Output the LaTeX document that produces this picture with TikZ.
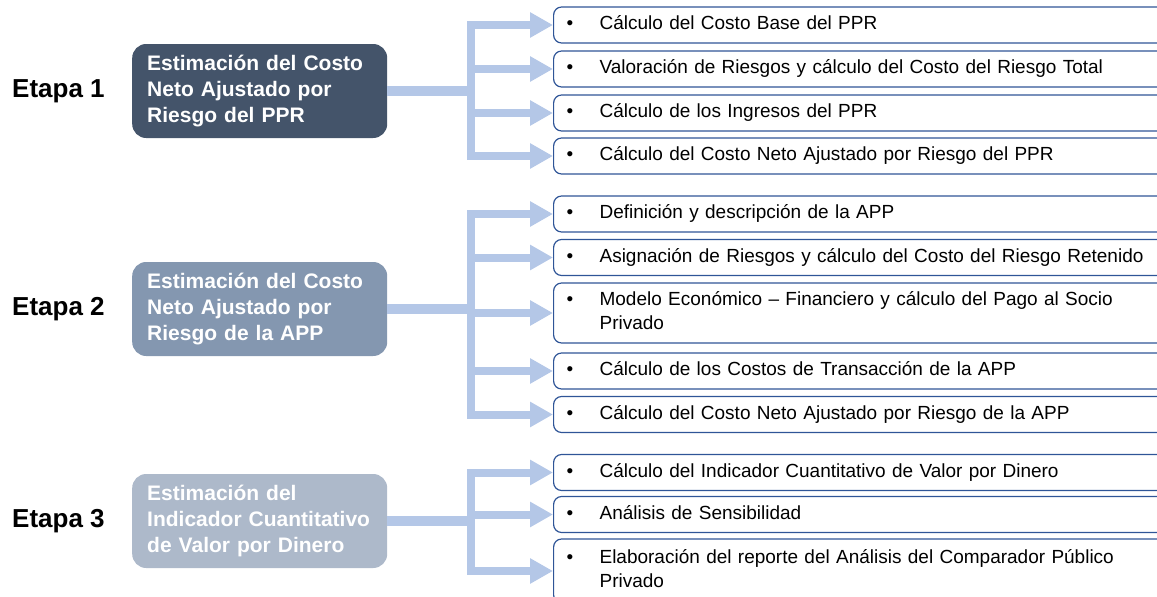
\documentclass[tikz,border=0pt]{standalone}
\usepackage{fontspec}
\setmainfont{Liberation Sans}
\usetikzlibrary{arrows.meta}
\definecolor{etapaA}{RGB}{68,84,106}
\definecolor{etapaB}{RGB}{132,151,176}
\definecolor{etapaC}{RGB}{173,185,202}
\definecolor{flecha}{RGB}{180,199,231}
\definecolor{borde}{RGB}{47,85,151}
\newcommand{\punto}[1]{\begin{tabular}{@{}p{33pt}@{}l@{}}\textbullet & #1\end{tabular}}
\tikzset{
  etapa/.style = {anchor=west, inner sep=0pt, font=\bfseries\fontsize{26}{30}\selectfont},
  fase/.style = {rectangle, rounded corners=14pt, text=white, anchor=west,
    minimum width=255pt, minimum height=94pt, text width=225pt, inner xsep=15pt,
    inner ysep=0pt, align=left, font=\bfseries\fontsize{21}{26}\selectfont},% caja de etapa
  fase_a/.style = {fase, fill=etapaA},
  fase_b/.style = {fase, fill=etapaB},
  fase_c/.style = {fase, fill=etapaC},
  paso/.style = {rectangle, rounded corners=8pt, draw=borde, line width=1.2pt,
    anchor=west, text width=614pt, inner xsep=13pt, inner ysep=0pt, align=left,
    minimum height=36pt, font=\fontsize{19}{24}\selectfont},% caja de actividad
  paso_d/.style = {paso, minimum height=60pt},
  paso_t/.style = {paso, minimum height=64pt},
  tallo/.style = {draw=flecha, line width=10pt},
  rama/.style = {draw=flecha, line width=8pt, line join=miter,
    -{Triangle[length=23pt,width=24pt]}},
}
\begin{document}
\begin{tikzpicture}[x=1pt,y=-1pt]
  \useasboundingbox (0,0) rectangle (1157,597);

  % etapa 1
  \node[etapa] (e1) at (12,91) {Etapa 1};
  \node[fase_a] (f1) at (132,91) {Estimación del Costo\\Neto Ajustado por\\Riesgo del PPR};
  \coordinate (j1) at (471,91);
  \node[paso] (p11) at (553,25) {\punto{Cálculo del Costo Base del PPR}};
  \node[paso] (p12) at (553,69) {\punto{Valoración de Riesgos y cálculo del Costo del Riesgo Total}};
  \node[paso] (p13) at (553,113) {\punto{Cálculo de los Ingresos del PPR}};
  \node[paso] (p14) at (553,156) {\punto{Cálculo del Costo Neto Ajustado por Riesgo del PPR}};

  % etapa 2
  \node[etapa] (e2) at (12,309) {Etapa 2};
  \node[fase_b] (f2) at (132,309) {Estimación del Costo\\Neto Ajustado por\\Riesgo de la APP};
  \coordinate (j2) at (471,309);
  \node[paso] (p21) at (553,214) {\punto{Definición y descripción de la APP}};
  \node[paso] (p22) at (553,257.5) {\punto{Asignación de Riesgos y cálculo del Costo del Riesgo Retenido}};
  \node[paso_d] (p23) at (553,313) {\punto{Modelo Económico – Financiero y cálculo del Pago al Socio\\ & Privado}};
  \node[paso] (p24) at (553,371) {\punto{Cálculo de los Costos de Transacción de la APP}};
  \node[paso] (p25) at (553,414.5) {\punto{Cálculo del Costo Neto Ajustado por Riesgo de la APP}};

  % etapa 3
  \node[etapa] (e3) at (12,521) {Etapa 3};
  \node[fase_c] (f3) at (132,521) {Estimación del\\Indicador Cuantitativo\\de Valor por Dinero};
  \coordinate (j3) at (471,521);
  \node[paso] (p31) at (553,472.5) {\punto{Cálculo del Indicador Cuantitativo de Valor por Dinero}};
  \node[paso] (p32) at (553,514.5) {\punto{Análisis de Sensibilidad}};
  \node[paso_t] (p33) at (553,571) {\punto{Elaboración del reporte del Análisis del Comparador Público\\ & Privado}};

  %   flechas etapa 1
  \draw[tallo] (f1.east) -- (j1);
  \draw[rama] (j1) |- (p11.west);
  \draw[rama] (j1) |- (p12.west);
  \draw[rama] (j1) |- (p13.west);
  \draw[rama] (j1) |- (p14.west);
  %   flechas etapa 2
  \draw[tallo] (f2.east) -- (j2);
  \draw[rama] (j2) |- (p21.west);
  \draw[rama] (j2) |- (p22.west);
  \draw[rama] (j2) |- (p23.west);
  \draw[rama] (j2) |- (p24.west);
  \draw[rama] (j2) |- (p25.west);
  %   flechas etapa 3
  \draw[tallo] (f3.east) -- (j3);
  \draw[rama] (j3) |- (p31.west);
  \draw[rama] (j3) |- (p32.west);
  \draw[rama] (j3) |- (p33.west);
\end{tikzpicture}
\end{document}
